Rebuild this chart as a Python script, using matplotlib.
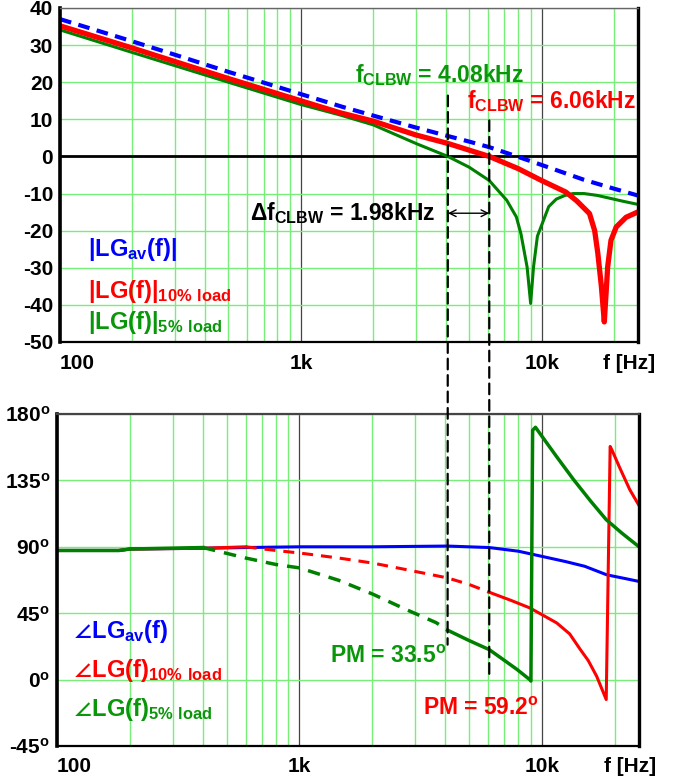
import numpy as np
import matplotlib
matplotlib.use('Agg')
import matplotlib.pyplot as plt
from matplotlib.patches import ConnectionPatch
from matplotlib.ticker import LogLocator, NullFormatter

plt.rcParams['font.family'] = ['Liberation Sans', 'DejaVu Sans']
plt.rcParams['font.weight'] = 'bold'
plt.rcParams['mathtext.default'] = 'regular'

BLUE = '#0000ff'
RED = '#ff0000'
GREEN = '#008000'
GREEN_TXT = '#0a960a'
GRID = '#77ee77'

# |LG| curves [dB]
f_av_mag = [100, 150, 200, 300, 500, 700, 1000, 1500, 2000, 3000, 4080, 5000,
            6060, 7500, 10000, 12500, 15000, 20000, 25000]
av_mag = [37, 33.5, 31, 27.4, 22.8, 19.9, 16.8, 13.3, 11, 7.8, 5.5, 4,
          2.5, 0.5, -2.3, -4.5, -6.3, -8.7, -10.5]

f_10_mag = [100, 200, 500, 1000, 1450, 2000, 3000, 4080, 5000, 6060, 8000, 10000,
            12600, 14000, 15800, 16600, 17100, 17700, 18200, 18800, 19400, 20400,
            22400, 25000]
p10_mag = [35.2, 29.2, 21, 15, 11.8, 9.5, 5.8, 3.5, 1.7, 0, -3.3, -6.5,
           -9.6, -12, -15.4, -20, -26, -35, -44.6, -29.7, -22.6, -19,
           -16.4, -15]

f_5_mag = [100, 200, 500, 1000, 1450, 2000, 3030, 4080, 5000, 6060, 7160, 7850,
           8200, 8700, 9000, 9250, 9600, 10000, 10700, 11500, 12500, 13500, 15000,
           17000, 19000, 21500, 25000]
p5_mag = [34.1, 28, 20, 14, 11.2, 8.5, 3.4, 0, -2.9, -6.5, -11.8, -16.3,
          -20.8, -29.8, -39.6, -29.8, -21.5, -18.5, -13.5, -11.5, -10.5, -10, -10,
          -10.5, -11.2, -12, -12.9]

# phase curves [deg]
f_av_ph = [100, 180, 200, 400, 600, 1000, 2000, 4080, 6060, 8000, 10000, 12500,
           15000, 18500, 22000, 25000]
av_ph = [87.5, 87.5, 88.5, 89, 89.5, 90, 90, 90.5, 89.5, 87, 83.5, 80,
         76.8, 71, 68.5, 66.6]

f_10_ph = [100, 180, 200, 400, 600, 800, 1000, 1450, 2000, 2760, 4080, 5000,
           6060, 7500, 8900, 10000, 11500, 13000, 14400, 15500, 16800, 18400,
           19100, 19500, 20900, 23000, 25000]
p10_ph = [87.5, 87.5, 88.5, 89, 90, 87.5, 85.8, 82.4, 79, 74.5, 68.9, 64.5,
          59.2, 53.5, 48.6, 44, 38.4, 31, 20.3, 13, 2.3, -13.5,
          158, 155, 143.7, 128.8, 118.6]

f_5_ph = [100, 180, 200, 400, 600, 800, 1000, 1450, 2000, 2760, 3660, 4080,
          5000, 6060, 7000, 7900, 8900, 9000, 9150, 9400, 10500, 11500, 13500,
          15900, 18400, 21300, 25000]
p5_ph = [87.5, 87.5, 88.5, 89.5, 82.4, 78, 75.7, 67.3, 58, 47.4, 38.6, 33.5,
         26.5, 20.3, 13, 6.8, 0, -1, 169, 171, 160, 151, 135.5,
         120.8, 108.4, 99.4, 90.3]

f_c5, f_c10 = 4080, 6060

mag_ticks = [-50, -40, -30, -20, -10, 0, 10, 20, 30, 40]
ph_ticks = [-45, 0, 45, 90, 135, 180]
f_ticks = [100, 1000, 10000]
f_labels = ['100', '1k', '10k']


def style_axes(ax, top_color, top_lw, label_pad):
    ax.set_xscale('log')
    ax.set_xlim(100, 10 ** 4.4)
    ax.xaxis.set_minor_locator(LogLocator(base=10, subs=np.arange(2, 10)))
    ax.xaxis.set_minor_formatter(NullFormatter())
    ax.set_xticks(f_ticks, f_labels)
    for lab in ax.get_xticklabels():
        if lab.get_text() == '100':
            lab.set_ha('left')
    ax.tick_params(which='both', length=0, labelsize=15)
    ax.tick_params(axis='x', pad=label_pad)
    ax.tick_params(axis='y', pad=5)
    ax.set_axisbelow(True)
    ax.grid(which='minor', axis='x', color=GRID, lw=1)
    ax.grid(which='major', axis='x', color='#444444', lw=0.9)
    ax.grid(which='major', axis='y', color=GRID, lw=1)
    ax.spines['left'].set_linewidth(2.6)
    ax.spines['right'].set_linewidth(2.4)
    ax.spines['bottom'].set_linewidth(1.6)
    ax.spines['top'].set_color(top_color)
    ax.spines['top'].set_linewidth(top_lw)
    ax.annotate('f [Hz]', xy=(0.94, 0), xycoords='axes fraction',
                xytext=(0, -label_pad), textcoords='offset points',
                ha='left', va='top', fontsize=15)


def plot_split(ax, f, v, lo, hi, color, lw):
    # solid outside [lo, hi], dashed inside
    f = np.asarray(f)
    v = np.asarray(v)
    m1 = f <= lo
    m2 = (f >= lo) & (f <= hi)
    m3 = f >= hi
    ax.plot(f[m1], v[m1], color=color, lw=lw)
    ax.plot(f[m2], v[m2], color=color, lw=lw, dashes=(3.6, 2.6))
    ax.plot(f[m3], v[m3], color=color, lw=lw)


fig = plt.figure(figsize=(6.78, 7.79), dpi=100)
ax1 = fig.add_axes([60 / 678, 1 - 342 / 779, 578 / 678, 334 / 779])
ax2 = fig.add_axes([57 / 678, 1 - 746 / 779, 582 / 678, 332 / 779])

# magnitude
style_axes(ax1, '#666666', 1.0, 9)
ax1.set_ylim(-50, 40)
ax1.set_yticks(mag_ticks, [str(t) for t in mag_ticks])
ax1.axhline(0, color='k', lw=2, zorder=1.5)
ax1.plot(f_5_mag, p5_mag, color=GREEN, lw=2.2)
ax1.plot(f_10_mag, p10_mag, color=RED, lw=3.8)
ax1.plot(f_av_mag, av_mag, color=BLUE, lw=3, dashes=(2.8, 1.8))

ax1.text(131, -26.9, '|LG$_{av}$(f)|', color=BLUE, fontsize=17)
ax1.text(131, -38.2, '|LG(f)|$_{10\\%\\ load}$', color=RED, fontsize=17)
ax1.text(131, -46.5, '|LG(f)|$_{5\\%\\ load}$', color=GREEN_TXT, fontsize=17)
ax1.text(1675, 20.0, 'f$_{CLBW}$ = 4.08kHz', color=GREEN_TXT, fontsize=16.5)
ax1.text(4920, 13.1, 'f$_{CLBW}$ = 6.06kHz', color=RED, fontsize=16.5)
ax1.text(614, -17.1, '$\\Delta$f$_{CLBW}$ = 1.98kHz', color='k', fontsize=16.5)
ax1.annotate('', xy=(f_c10, -15.3), xytext=(f_c5, -15.3),
             arrowprops=dict(arrowstyle='<->', color='k', lw=1,
                             shrinkA=0, shrinkB=0, mutation_scale=12))

# phase
style_axes(ax2, '#444444', 1.6, 7.7)
ax2.set_ylim(-45, 180)
ax2.set_yticks(ph_ticks, ['%d$^{o}$' % t for t in ph_ticks])
ax2.plot(f_av_ph, av_ph, color=BLUE, lw=2.2)
plot_split(ax2, f_10_ph, p10_ph, 600, f_c10, RED, 2.2)
plot_split(ax2, f_5_ph, p5_ph, 400, f_c5, GREEN, 2.5)

ax2.text(116, 28.5, '$\\angle$LG$_{av}$(f)', color=BLUE, fontsize=17)
ax2.text(116, 1.8, '$\\angle$LG(f)$_{10\\%\\ load}$', color=RED, fontsize=17)
ax2.text(116, -24.4, '$\\angle$LG(f)$_{5\\%\\ load}$', color=GREEN_TXT, fontsize=17)
ax2.text(1334, 11.5, 'PM = 33.5$^{o}$', color=GREEN_TXT, fontsize=16.5)
ax2.text(3220, -23.7, 'PM = 59.2$^{o}$', color=RED, fontsize=16.5)

# crossover markers running through both plots
for fc, top, bot in [(f_c5, 16.4, 23.7), (f_c10, 9.7, 2.2)]:
    con = ConnectionPatch(xyA=(fc, top), coordsA=ax1.transData,
                          xyB=(fc, bot), coordsB=ax2.transData,
                          color='k', lw=1.6, linestyle=(0, (4.8, 2.6)), zorder=5)
    fig.add_artist(con)

fig.savefig('out.png', dpi=100)
